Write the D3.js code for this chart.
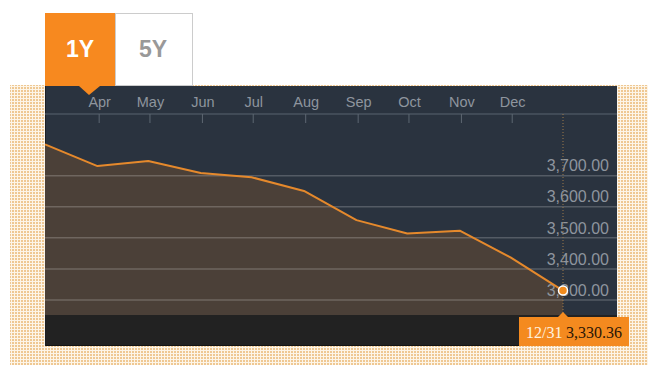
<!DOCTYPE html>
<html>
<head>
<meta charset="utf-8">
<script src="https://cdn.jsdelivr.net/npm/d3@7/dist/d3.min.js"></script>
<style>
  html, body { margin: 0; padding: 0; background: #ffffff; }
  svg { display: block; }
</style>
</head>
<body>
<svg id="chart" width="650" height="366"></svg>
<script>
// ---- data ----
const dates = ["2013-02-28", "2013-03-31", "2013-04-30", "2013-05-31", "2013-06-30",
               "2013-07-31", "2013-08-31", "2013-09-30", "2013-10-31", "2013-11-30", "2013-12-31"];
const values = [3801, 3731, 3747, 3709, 3695, 3651, 3557, 3514, 3523, 3437, 3330.36];
const monthTicks = ["2013-04-01", "2013-05-01", "2013-06-01", "2013-07-01", "2013-08-01",
                    "2013-09-01", "2013-10-01", "2013-11-01", "2013-12-01"];
const yTicks = [3300, 3400, 3500, 3600, 3700];
const tabs = ["1Y", "5Y"];
const lastLabelDate = "12/31";

const parse = d3.timeParse("%Y-%m-%d");
const data = dates.map((d, i) => ({ date: parse(d), value: values[i] }));

const svg = d3.select("#chart");
const panel = { x0: 45, x1: 617, top: 86, sep: 114, plotBottom: 315, bottom: 346 };

// ---- dotted background pattern ----
const defs = svg.append("defs");
const pat = defs.append("pattern").attr("id", "dots")
  .attr("patternUnits", "userSpaceOnUse").attr("width", 3).attr("height", 3);
pat.append("rect").attr("width", 3).attr("height", 3).attr("fill", "#fdf5e8");
pat.append("rect").attr("width", 2).attr("height", 2).attr("fill", "#efc893");

svg.append("rect").attr("x", 10).attr("y", 85).attr("width", 638).attr("height", 280)
  .attr("fill", "url(#dots)");

// ---- panel ----
svg.append("rect").attr("x", panel.x0).attr("y", panel.top)
  .attr("width", panel.x1 - panel.x0).attr("height", panel.bottom - panel.top)
  .attr("fill", "#2a333f");
svg.append("rect").attr("x", panel.x0).attr("y", panel.plotBottom)
  .attr("width", panel.x1 - panel.x0).attr("height", panel.bottom - panel.plotBottom)
  .attr("fill", "#222222");
svg.append("line").attr("x1", panel.x0).attr("x2", panel.x1)
  .attr("y1", panel.bottom - 0.5).attr("y2", panel.bottom - 0.5)
  .attr("stroke", "#141414").attr("stroke-width", 1);
svg.append("line").attr("x1", panel.x0 + 0.5).attr("x2", panel.x0 + 0.5)
  .attr("y1", panel.top).attr("y2", panel.bottom)
  .attr("stroke", "#1c1f24").attr("stroke-width", 1);

// ---- scales ----
const x = d3.scaleTime().domain([parse(dates[0]), parse(dates[dates.length - 1])]).range([45, 563]);
const y = d3.scaleLinear().domain([3300, 3700]).range([300, 175.7]);

// ---- area + line ----
svg.append("path").datum(data)
  .attr("d", d3.area().x(d => x(d.date)).y0(panel.plotBottom).y1(d => y(d.value)))
  .attr("fill", "#4b4038");

// gridlines
svg.append("g").selectAll("line").data(yTicks).join("line")
  .attr("x1", panel.x0).attr("x2", panel.x1)
  .attr("y1", d => y(d)).attr("y2", d => y(d))
  .attr("stroke", "rgba(255,255,255,0.2)").attr("stroke-width", 1.5);

// separator under month labels
svg.append("line").attr("x1", panel.x0).attr("x2", panel.x1)
  .attr("y1", panel.sep).attr("y2", panel.sep)
  .attr("stroke", "#4a5561").attr("stroke-width", 1.5);

// month axis
const xAxis = d3.axisTop(x).tickValues(monthTicks.map(parse))
  .tickFormat(d3.timeFormat("%b")).tickSize(0).tickPadding(0);
const gx = svg.append("g").attr("transform", `translate(0,${panel.sep - 7})`).call(xAxis);
gx.select(".domain").remove();
gx.selectAll("text").attr("fill", "#8e959e").attr("font-family", "Liberation Sans, Arial, sans-serif")
  .attr("font-size", 14.5).attr("dy", 0);
svg.append("g").selectAll("line").data(monthTicks.map(parse)).join("line")
  .attr("x1", d => x(d)).attr("x2", d => x(d))
  .attr("y1", panel.sep).attr("y2", panel.sep + 9)
  .attr("stroke", "#5d6772").attr("stroke-width", 1);

// y labels
const yAxis = d3.axisLeft(y).tickValues(yTicks).tickFormat(d3.format(",.2f")).tickSize(0).tickPadding(0);
const gy = svg.append("g").attr("transform", `translate(609,0)`).call(yAxis);
gy.select(".domain").remove();
gy.selectAll("text").attr("fill", "#8e959e").attr("font-family", "Liberation Sans, Arial, sans-serif")
  .attr("font-size", 16).attr("dy", "-0.3em");

// line
svg.append("path").datum(data)
  .attr("d", d3.line().x(d => x(d.date)).y(d => y(d.value)))
  .attr("fill", "none").attr("stroke", "#e5892c").attr("stroke-width", 2)
  .attr("stroke-linejoin", "round");

// ---- last point marker ----
const last = data[data.length - 1];
const lx = x(last.date), ly = y(last.value);
svg.append("line").attr("x1", lx).attr("x2", lx).attr("y1", panel.sep).attr("y2", panel.plotBottom)
  .attr("stroke", "#9c7a4c").attr("stroke-width", 1).attr("stroke-dasharray", "1,2");
svg.append("circle").attr("cx", lx).attr("cy", ly).attr("r", 4.5)
  .attr("fill", "#f28c1e").attr("stroke", "#ffffff").attr("stroke-width", 1.5);

// tooltip
svg.append("rect").attr("x", 519).attr("y", 317).attr("width", 110).attr("height", 29)
  .attr("fill", "#f48a1f");
svg.append("path").attr("d", `M${lx - 5},317 L${lx},312 L${lx + 5},317 Z`).attr("fill", "#f48a1f");
const tt = svg.append("text").attr("x", 526).attr("y", 338)
  .attr("font-family", "Liberation Serif, Times New Roman, serif").attr("font-size", 16);
tt.append("tspan").attr("fill", "#fff3e0").text(lastLabelDate);
tt.append("tspan").attr("x", 566).attr("fill", "#2a1606").text(d3.format(",.2f")(last.value));

// ---- tabs ----
svg.append("rect").attr("x", 115.5).attr("y", 13.5).attr("width", 77).attr("height", 72)
  .attr("fill", "#ffffff").attr("stroke", "#cccccc").attr("stroke-width", 1);
svg.append("rect").attr("x", 45).attr("y", 13).attr("width", 70).attr("height", 73)
  .attr("fill", "#f7891f");
svg.append("path").attr("d", "M79,86 L89,95 L100,86 Z").attr("fill", "#f7891f");
svg.append("text").attr("x", 80).attr("y", 57).attr("text-anchor", "middle")
  .attr("font-family", "Liberation Sans, Arial, sans-serif").attr("font-weight", "bold")
  .attr("font-size", 23).attr("fill", "#ffffff").text(tabs[0]);
svg.append("text").attr("x", 153).attr("y", 57).attr("text-anchor", "middle")
  .attr("font-family", "Liberation Sans, Arial, sans-serif").attr("font-weight", "bold")
  .attr("font-size", 23).attr("fill", "#999999").text(tabs[1]);
</script>
</body>
</html>
